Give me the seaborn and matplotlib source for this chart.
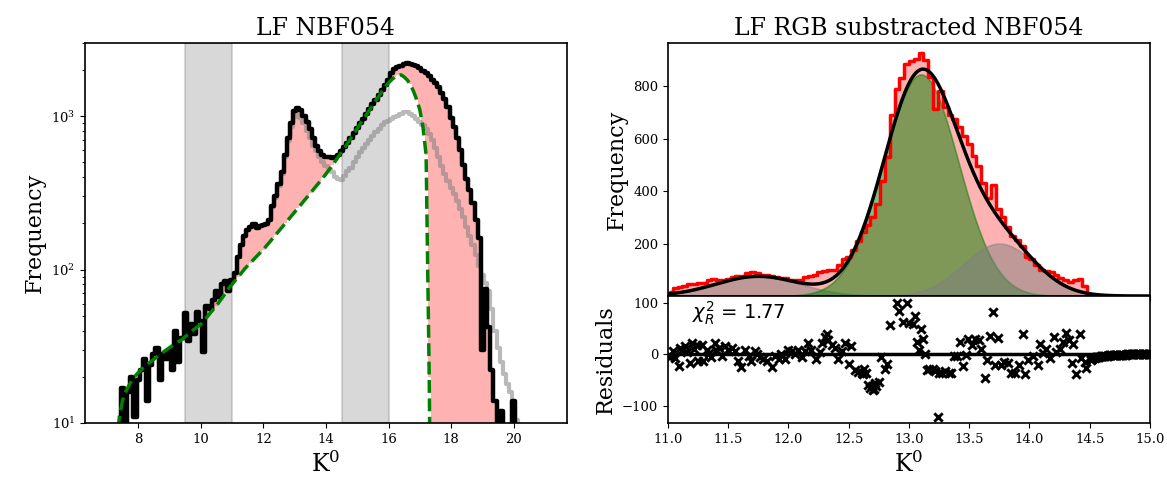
import numpy as np
import matplotlib
matplotlib.use("Agg")
import matplotlib.pyplot as plt
import seaborn as sns

sns.set_style("ticks")
plt.rcParams["font.family"] = "serif"
plt.rcParams["font.serif"] = ["DejaVu Serif"]
plt.rcParams["mathtext.fontset"] = "dejavuserif"
plt.rcParams["axes.linewidth"] = 1.2
plt.rcParams["axes.edgecolor"] = "black"
for key in ("text.color", "axes.labelcolor", "xtick.color", "ytick.color"):
    plt.rcParams[key] = "black"

# ---------------- left panel : full LF, 0.1 mag bins (7.3 ... 20.2) ----------------
k_left = np.round(np.arange(7.3, 20.25, 0.1), 1)
lf_black = [1, 8, 17, 9, 16, 20, 11, 19, 22, 26,
            14, 24, 28, 31, 19, 28, 26, 30, 22, 40,
            25, 36, 52, 34, 44, 38, 53, 46, 29, 58,
            55, 63, 72, 66, 80, 84, 72, 86, 95, 120,
            145, 165, 180, 190, 197, 188, 192, 195, 197, 210,
            260, 300, 360, 430, 560, 720, 900, 1080, 1130, 1090,
            1010, 920, 830, 720, 640, 590, 555, 545, 540, 535,
            540, 560, 590, 625, 670, 720, 780, 835, 900, 965,
            1040, 1110, 1200, 1280, 1380, 1480, 1600, 1720, 1900, 2020,
            2080, 2120, 2180, 2230, 2200, 2170, 2120, 2060, 1980, 1900,
            1820, 1720, 1640, 1560, 1420, 1300, 1150, 980, 850, 720,
            600, 480, 390, 330, 270, 210, 160, 30, 75, 42,
            22, 14, 9, 12, 6, 4, 8, 14, 3, 1]
lf_gray = [1, 8, 17, 9, 16, 20, 11, 19, 22, 26,
           14, 24, 28, 31, 19, 28, 26, 30, 22, 40,
           25, 36, 52, 34, 44, 38, 53, 46, 29, 58,
           55, 63, 72, 66, 80, 84, 72, 86, 95, 120,
           145, 165, 180, 190, 197, 188, 192, 195, 197, 210,
           255, 295, 350, 420, 540, 690, 850, 990, 1030, 980,
           900, 800, 720, 640, 590, 540, 500, 470, 450, 430,
           400, 390, 385, 410, 440, 460, 500, 545, 580, 620,
           655, 700, 740, 790, 830, 870, 910, 930, 960, 990,
           1010, 1040, 1060, 1070, 1030, 1000, 960, 920, 880, 820,
           770, 700, 620, 540, 470, 420, 380, 340, 310, 280,
           250, 220, 190, 165, 145, 125, 105, 92, 82, 72,
           55, 40, 31, 25, 21, 18, 16, 13, 10.5, 2]
rgb_model = [7, 11, 14, 16, 17.5, 19, 20.2, 21.3, 22.3, 23.3,
             24.2, 25.1, 26, 27, 28, 29, 30, 31, 32, 33,
             34, 35, 36.5, 38, 39.5, 41, 42.5, 44, 46.5, 49,
             52, 55, 58, 62, 66, 71, 76, 80, 85, 90,
             95, 101, 106, 111, 117, 123, 129, 135, 143, 151,
             160, 169, 179, 189, 200, 212, 224, 237, 251, 265,
             281, 297, 314, 333, 352, 373, 395, 420, 447, 477,
             510, 545, 585, 625, 670, 720, 775, 830, 895, 960,
             1030, 1105, 1185, 1270, 1360, 1460, 1560, 1650, 1730, 1800,
             1850, 1860, 1800, 1720, 1610, 1450, 1280, 1100, 850, 560,
             20, 0.1, 0.1, 0.1, 0.1, 0.1, 0.1, 0.1, 0.1, 0.1,
             0.1, 0.1, 0.1, 0.1, 0.1, 0.1, 0.1, 0.1, 0.1, 0.1,
             0.1, 0.1, 0.1, 0.1, 0.1, 0.1, 0.1, 0.1, 0.1, 0.1]
masked_ranges = [(9.5, 11.0), (14.5, 16.0)]

# ---------------- right panel : RGB subtracted LF, 0.04 mag bins ----------------
k_right = np.round(np.arange(11.02, 14.6, 0.04), 2)
lf_sub = [14, 30, 33, 40, 44, 45, 48, 50, 60, 66,
          62, 60, 64, 74, 76, 78, 88, 90, 86, 82,
          80, 78, 72, 70, 68, 62, 60, 62, 74, 76,
          80, 90, 95, 98, 100, 120, 140, 150, 175, 210,
          245, 270, 300, 350, 440, 530, 690, 790, 830, 885,
          895, 905, 925, 900, 835, 715, 780, 720, 690, 675,
          645, 610, 580, 535, 495, 430, 375, 425, 330, 300,
          265, 230, 215, 190, 150, 140, 120, 100, 95, 90,
          80, 70, 62, 55, 62, 65, 40, 0, 0, 0]

# gaussian components of the fit (amplitude, centre, sigma)
gauss_amp = [75, 845, 200]
gauss_mu = [11.75, 13.10, 13.75]
gauss_sig = [0.35, 0.31, 0.30]
gauss_col = ["gray", "green", "gray"]

resid_k = [11.00, 11.02, 11.04, 11.06, 11.09, 11.10, 11.12, 11.14, 11.16, 11.18,
           11.20, 11.22, 11.24, 11.25, 11.28, 11.29, 11.32, 11.34, 11.36, 11.39,
           11.40, 11.42, 11.45, 11.47, 11.50, 11.53, 11.56, 11.58, 11.61, 11.64,
           11.67, 11.69, 11.72, 11.74, 11.76, 11.79, 11.82, 11.86, 11.89, 11.92,
           11.94, 11.97, 12.00, 12.03, 12.05, 12.08, 12.11, 12.14, 12.16, 12.19,
           12.23, 12.26, 12.28, 12.30, 12.32, 12.33, 12.36, 12.39, 12.41, 12.44,
           12.47, 12.50, 12.52, 12.55, 12.58, 12.61, 12.62, 12.63, 12.64, 12.66,
           12.68, 12.69, 12.70, 12.71, 12.72, 12.73, 12.75, 12.77, 12.80, 12.82,
           12.84, 12.90, 12.92, 12.95, 12.98, 13.00, 13.03, 13.05, 13.07, 13.08,
           13.10, 13.12, 13.13, 13.15, 13.17, 13.20, 13.22, 13.24, 13.25, 13.27,
           13.30, 13.33, 13.35, 13.37, 13.40, 13.42, 13.45, 13.47, 13.49, 13.52,
           13.55, 13.58, 13.60, 13.63, 13.65, 13.67, 13.70, 13.71, 13.74, 13.76,
           13.79, 13.82, 13.85, 13.88, 13.91, 13.95, 13.96, 13.99, 14.03, 14.07,
           14.09, 14.11, 14.14, 14.17, 14.20, 14.22, 14.25, 14.28, 14.30, 14.33,
           14.35, 14.36, 14.39, 14.42, 14.43, 14.46, 14.47, 14.50]
resid_val = [-3, -5, 6, -8, -22, 12, 8, 16, 4, -16,
             22, 10, 19, -12, 19, -12, 9, 2, -6, 22,
             8, 12, -3, 16, 9, 12, 6, -12, -25, 9,
             -3, -12, 6, 0, -6, -9, -12, -25, -3, -9,
             0, -9, 9, 6, 0, 9, -6, 6, 22, 9,
             -9, 5, 22, 34, 40, 28, 19, 12, -9, 6,
             22, -19, 16, -31, -34, -37, -38, -28, -36, -59,
             -66, -62, -70, -68, -56, -62, -53, -6, -28, -18,
             57, 100, 84, 62, 100, 60, 58, 75, 24, 8,
             50, 30, 0, -30, -29, -29, -32, -122, -36, -36,
             -33, -36, -36, -4, -4, 24, -23, -1, 30, 18,
             30, 27, 11, -45, -11, 36, 82, -20, 31, -20,
             -14, -17, -36, -36, -20, 39, -39, -11, -4, -20,
             21, 2, 11, -7, 33, 5, 11, 24, 42, 28,
             -17, 21, -39, 39, -7, -14, -26, -7]
tail_k = np.round(np.arange(14.51, 15.005, 0.01), 2)
tail_res = [-10, -9, -8, -7, -6, -6, -5, -5, -4, -4,
            -4, -3, -3, -3, -3, -2, -2, -2, -2, -2,
            -1, -1, -1, -1, -1, -1, -1, -1, -1, -1,
            0, 0, 0, 0, 0, 0, 0, 0, 0, 0,
            0, 0, 0, 0, 0, 0, 0, 0, 0, 0]
chi2_red = 1.77

# ---------------- figure ----------------
fig = plt.figure(figsize=(11.67, 4.84), dpi=100)
ax1 = fig.add_axes([0.0728, 0.126, 0.413, 0.7852])
ax2 = fig.add_axes([0.5724, 0.3884, 0.413, 0.5228])
ax3 = fig.add_axes([0.5724, 0.126, 0.413, 0.2624], sharex=ax2)

# left
for lo, hi in masked_ranges:
    ax1.axvspan(lo, hi, color="gray", alpha=0.3, lw=1.5, zorder=0)
ax1.fill_between(k_left, lf_black, rgb_model, step="mid", color="red", alpha=0.3, lw=0)
sns.lineplot(x=k_left, y=lf_gray, drawstyle="steps-mid", color="gray", alpha=0.55, lw=3, ax=ax1)
sns.lineplot(x=k_left, y=lf_black, drawstyle="steps-mid", color="black", lw=3.2, ax=ax1)
sns.lineplot(x=k_left, y=rgb_model, color="green", ls="--", lw=2.5, ax=ax1)
ax1.set_yscale("log")
ax1.set_ylim(10, 3000)
ax1.set_xlim(6.3, 21.7)
ax1.set_title("LF NBF054", fontsize=17)
ax1.set_xlabel("K$^0$", fontsize=17)
ax1.set_ylabel("Frequency", fontsize=16)

# right, histogram + fit
k_fine = np.linspace(11, 15, 600)
comps = [a * np.exp(-0.5 * ((k_fine - m) / s) ** 2) for a, m, s in zip(gauss_amp, gauss_mu, gauss_sig)]
ax2.fill_between(k_right, lf_sub, step="mid", color="red", alpha=0.3, lw=0)
for comp, col in zip(comps, gauss_col):
    ax2.fill_between(k_fine, comp, color=col, alpha=0.5, lw=1.2)
sns.lineplot(x=k_right, y=lf_sub, drawstyle="steps-mid", color="red", lw=2.5, ax=ax2)
sns.lineplot(x=k_fine, y=sum(comps), color="black", lw=2.5, ax=ax2)
ax2.set_xlim(11, 15)
ax2.set_ylim(0, 965)
ax2.set_yticks([200, 400, 600, 800])
ax2.tick_params(labelbottom=False)
ax2.set_title("LF RGB substracted NBF054", fontsize=17)
ax2.set_ylabel("Frequency", fontsize=16)

# residuals
ax3.axhline(0, color="black", lw=2.5)
sns.scatterplot(x=list(resid_k) + list(tail_k), y=resid_val + tail_res, marker="x",
                color="black", s=36, linewidth=2.1, ax=ax3)
ax3.set_ylim(-133, 113)
ax3.set_yticks([-100, 0, 100])
ax3.set_xticks(np.arange(11, 15.01, 0.5))
ax3.set_xlim(11, 15)
ax3.text(0.05, 0.97, r"$\chi^2_R$ = %.2f" % chi2_red, transform=ax3.transAxes, va="top",
         fontsize=14, family="DejaVu Sans", math_fontfamily="dejavusans")
ax3.set_xlabel("K$^0$", fontsize=17)
ax3.set_ylabel("Residuals", fontsize=16)

for ax in (ax1, ax2, ax3):
    ax.tick_params(labelsize=9.5)

fig.savefig("out.png", dpi=100)
